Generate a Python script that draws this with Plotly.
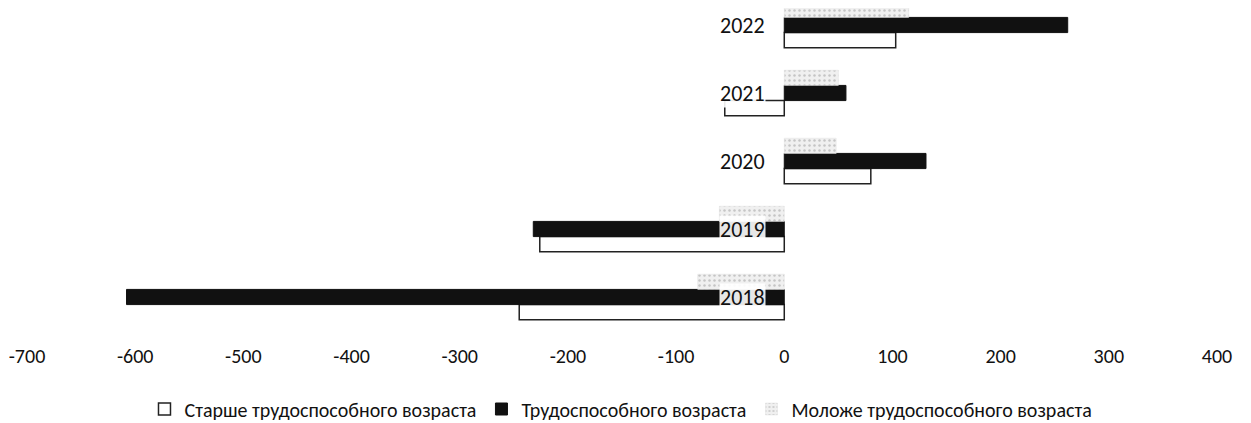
import plotly.graph_objects as go

years = ["2018", "2019", "2020", "2021", "2022"]
series_names = [
    "Старше трудоспособного возраста",
    "Трудоспособного возраста",
    "Моложе трудоспособного возраста",
]
older = [-245, -226, 80, -55, 103]
working = [-608, -232, 131, 57, 262]
younger = [-80, -60, 48, 50, 115]
x_ticks = [-700, -600, -500, -400, -300, -200, -100, 0, 100, 200, 300, 400]
x_tick_text = ["-700", "-600", "-500", "-400", "-300", "-200", "-100", "0", "100", "200", "300", "400"]

FONT = "Carlito, 'Liberation Sans Narrow', 'Open Sans', 'Noto Sans', sans-serif"

fig = go.Figure()
fig.add_trace(go.Bar(
    y=years, x=older, name=series_names[0], orientation="h",
    marker=dict(color="white", line=dict(color="#222222", width=1.5)),
))
fig.add_trace(go.Bar(
    y=years, x=working, name=series_names[1], orientation="h",
    marker=dict(color="#111111", line=dict(color="#111111", width=1)),
))
fig.add_trace(go.Bar(
    y=years, x=younger, name=series_names[2], orientation="h",
    marker=dict(color="#f0f0f0", line=dict(color="#e0e0e0", width=0.5),
                pattern=dict(shape=".", fgcolor="#999999", size=5, solidity=0.2)),
))

for i, yr in enumerate(years):
    fig.add_annotation(x=0, y=i, xref="x", yref="y", text=yr, showarrow=False,
                       xanchor="right", yanchor="middle", xshift=-18,
                       bgcolor="rgba(255,255,255,0.9)", borderpad=0,
                       font=dict(family=FONT, size=22, color="#111111"))

fig.update_layout(
    width=1251, height=423,
    margin=dict(l=19, r=42, t=0, b=100, autoexpand=False),
    paper_bgcolor="white", plot_bgcolor="white",
    barmode="group", bargap=0.33, bargroupgap=0,
    font=dict(family=FONT, size=20, color="#111111"),
    showlegend=True,
    legend=dict(orientation="h", x=0.49, xref="container", xanchor="center",
                y=(423 - 401) / 423, yref="container", yanchor="middle",
                font=dict(size=20), traceorder="normal", itemwidth=30),
    xaxis=dict(range=[-700, 400], tickvals=x_ticks, ticktext=x_tick_text,
               showgrid=False, zeroline=False, automargin=False,
               showline=False, ticks="outside", ticklen=7, tickcolor="rgba(0,0,0,0)",
               tickfont=dict(size=20)),
    yaxis=dict(type="category", range=[-0.5, 4.25], showticklabels=False,
               showgrid=False, zeroline=False, showline=False, automargin=False),
)

fig.write_html("out.html")
